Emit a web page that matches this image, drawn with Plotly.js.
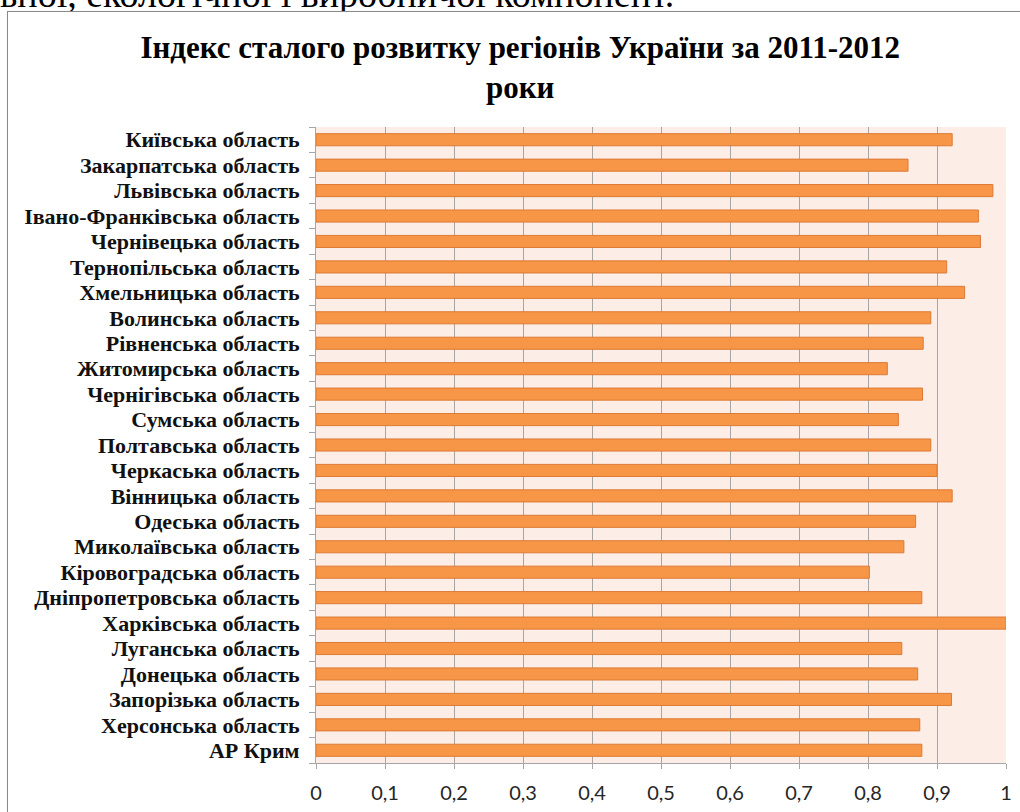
<!DOCTYPE html>
<html>
<head>
<meta charset="utf-8">
<script src="https://cdn.plot.ly/plotly-3.0.1.min.js"></script>
<style>
  html, body { margin: 0; padding: 0; background: #ffffff; width: 1020px; height: 812px; overflow: hidden; }
  #frame { position: absolute; left: 7px; top: 11px; width: 1040px; height: 840px;
           border: 1.5px solid #8a8a8a; box-shadow: 1px 1px 2px rgba(0,0,0,0.25); background: #fff; }
  #toptext { position: absolute; left: 0px; top: -21px; white-space: nowrap;
             font-family: "Liberation Serif", "Times New Roman", serif; font-size: 38px; line-height: 30px; color: #000; }
  #chart { position: absolute; left: 0; top: 0; width: 1020px; height: 812px; }
</style>
</head>
<body>
<div id="toptext">ьної, екологічної і виробничої компонент.</div>
<div id="frame"></div>
<div id="chart"></div>
<script>
const regions = [
  "Київська область", "Закарпатська область", "Львівська область", "Івано-Франківська область",
  "Чернівецька область", "Тернопільська область", "Хмельницька область", "Волинська область",
  "Рівненська область", "Житомирська область", "Чернігівська область", "Сумська область",
  "Полтавська область", "Черкаська область", "Вінницька область", "Одеська область",
  "Миколаївська область", "Кіровоградська область", "Дніпропетровська область", "Харківська область",
  "Луганська область", "Донецька область", "Запорізька область", "Херсонська область", "АР Крим"
];
const indexValues = [
  0.922, 0.858, 0.981, 0.960,
  0.963, 0.914, 0.940, 0.891,
  0.880, 0.828, 0.879, 0.844,
  0.891, 0.900, 0.922, 0.869,
  0.852, 0.802, 0.878, 1.000,
  0.849, 0.872, 0.921, 0.875, 0.878
];
const xTicks = [0, 0.1, 0.2, 0.3, 0.4, 0.5, 0.6, 0.7, 0.8, 0.9, 1];
const chartTitle = "Індекс сталого розвитку регіонів України за 2011-2012<br>роки";

const trace = {
  type: "bar",
  orientation: "h",
  x: indexValues,
  y: regions,
  width: 0.476,
  marker: { color: "#F79646", line: { color: "#DC7A36", width: 1 } },
  hoverinfo: "x+y"
};

const layout = {
  width: 1020,
  height: 812,
  margin: { l: 316, r: 14, t: 127, b: 49, pad: 0 },
  paper_bgcolor: "rgba(0,0,0,0)",
  plot_bgcolor: "#FCEEE7",
  separators: ", ",
  showlegend: false,
  title: {
    text: chartTitle,
    font: { family: "Liberation Serif, Times New Roman, serif", size: 31, color: "#000000", weight: "bold" },
    x: 0.51, xanchor: "center",
    y: 1 - 58 / 812, yanchor: "middle", yref: "container"
  },
  xaxis: {
    range: [0, 1],
    tickvals: xTicks,
    showgrid: true,
    gridcolor: "#A6A6A6",
    gridwidth: 1,
    zeroline: false,
    showline: true,
    linecolor: "#A6A6A6",
    linewidth: 1,
    ticks: "outside",
    ticklen: 5,
    tickcolor: "#A6A6A6",
    ticklabelstandoff: 7,
    tickfont: { family: "Lato, Carlito, sans-serif", size: 20, color: "#262626" },
    fixedrange: true
  },
  yaxis: {
    type: "category",
    autorange: "reversed",
    tickmode: "array",
    tickvals: regions,
    ticktext: regions,
    showgrid: false,
    zeroline: false,
    showline: true,
    linecolor: "#A6A6A6",
    linewidth: 1,
    ticks: "outside",
    tickson: "boundaries",
    ticklen: 6,
    tickcolor: "#A6A6A6",
    ticklabelstandoff: 11,
    tickfont: { family: "Liberation Serif, Times New Roman, serif", size: 22, color: "#111111", weight: "bold" },
    fixedrange: true
  }
};

Plotly.newPlot("chart", [trace], layout, { displayModeBar: false, staticPlot: true });
</script>
</body>
</html>
